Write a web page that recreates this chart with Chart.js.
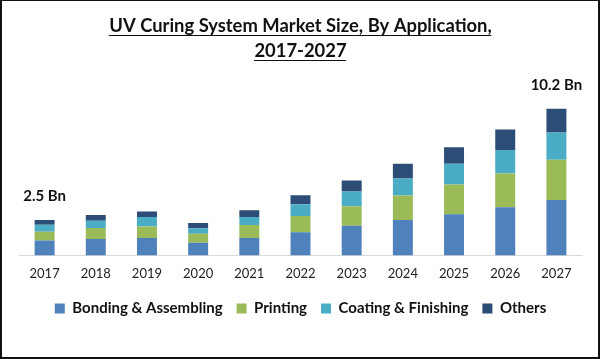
<!DOCTYPE html>
<html>
<head>
<meta charset="utf-8">
<script src="https://cdn.jsdelivr.net/npm/chart.js@4/dist/chart.umd.min.js"></script>
<style>
  html, body { margin: 0; padding: 0; background: #fff; }
  #wrap {
    position: relative; width: 600px; height: 359px; box-sizing: border-box;
    border-top: 1px solid #111; border-left: 2px solid #111;
    border-right: 2px solid #111; border-bottom: 2px solid #111;
  }
  #chart { position: absolute; left: -2px; top: -1px; }
</style>
</head>
<body>
<div id="wrap"><canvas id="chart" width="600" height="359"></canvas></div>
<script>
const years = ["2017", "2018", "2019", "2020", "2021", "2022", "2023", "2024", "2025", "2026", "2027"];
const bonding  = [1.03, 1.15, 1.22, 0.88, 1.22, 1.62, 2.07, 2.46, 2.87, 3.36, 3.86];
const printing = [0.62, 0.76, 0.80, 0.62, 0.90, 1.12, 1.36, 1.72, 2.07, 2.34, 2.80];
const coating  = [0.48, 0.50, 0.65, 0.39, 0.55, 0.83, 1.03, 1.17, 1.45, 1.65, 1.90];
const others   = [0.34, 0.41, 0.39, 0.37, 0.48, 0.62, 0.76, 1.03, 1.14, 1.42, 1.65];
const totalLabels = ["2.5 Bn", null, null, null, null, null, null, null, null, null, "10.2 Bn"];

const fontFam = "Lato, 'Open Sans', sans-serif";

// draws the "2.5 Bn" / "10.2 Bn" text over the first and last stacks
const totalsPlugin = {
  id: "totals",
  afterDatasetsDraw(chart) {
    const ctx = chart.ctx;
    const top = chart.getDatasetMeta(chart.data.datasets.length - 1);
    ctx.save();
    ctx.font = "bold 15px " + fontFam;
    ctx.fillStyle = "#111";
    ctx.textAlign = "center";
    ctx.textBaseline = "middle";
    totalLabels.forEach((t, i) => {
      if (!t) return;
      const bar = top.data[i];
      ctx.fillText(t, bar.x, bar.y - 24);
    });
    ctx.restore();
  }
};

// pull the legend up closer to the axis labels
const legendShift = {
  id: "legendShift",
  afterLayout(chart) {
    chart.legend.top -= 6;
    chart.legend.bottom -= 6;
  }
};

// underline under each title line
const underlinePlugin = {
  id: "underline",
  afterDraw(chart) {
    const t = chart.titleBlock;
    const opts = chart.options.plugins.title;
    const ctx = chart.ctx;
    ctx.save();
    ctx.font = "bold " + opts.font.size + "px " + fontFam;
    ctx.strokeStyle = "#111";
    ctx.lineWidth = 1;
    const lh = opts.font.size * opts.font.lineHeight;
    const mid = 300;
    opts.text.forEach((line, i) => {
      const w = ctx.measureText(line).width;
      const y = Math.round(t.top + opts.padding.top + lh / 2 + i * lh + opts.font.size * 0.45) + 0.5;
      ctx.beginPath();
      ctx.moveTo(mid - w / 2, y);
      ctx.lineTo(mid + w / 2, y);
      ctx.stroke();
    });
    ctx.restore();
  }
};

new Chart(document.getElementById("chart"), {
  type: "bar",
  data: {
    labels: years,
    datasets: [
      { label: "Bonding & Assembling", data: bonding, backgroundColor: "#4F81BD" },
      { label: "Printing", data: printing, backgroundColor: "#9BBB59" },
      { label: "Coating & Finishing", data: coating, backgroundColor: "#4BACC6" },
      { label: "Others", data: others, backgroundColor: "#2C4D75" }
    ]
  },
  options: {
    responsive: false,
    animation: false,
    layout: { padding: { left: 19, right: 18, top: 0, bottom: 27 } },
    datasets: { bar: { categoryPercentage: 1, barPercentage: 0.39 } },
    scales: {
      x: {
        stacked: true,
        grid: { display: false, drawTicks: false },
        border: { display: true, color: "#d9d9d9", width: 1 },
        ticks: { color: "#222", font: { family: fontFam, size: 13 }, padding: 11 }
      },
      y: { stacked: true, display: false, min: 0, max: 12.8 }
    },
    plugins: {
      title: {
        display: true,
        text: ["UV Curing System Market Size, By Application,", "2017-2027"],
        color: "#111",
        font: { family: fontFam, size: 18.4, weight: "bold", lineHeight: 1.35 },
        padding: { top: 14, bottom: 8 }
      },
      legend: {
        position: "bottom",
        labels: {
          color: "#111",
          boxWidth: 10, boxHeight: 10,
          padding: 14,
          font: { family: fontFam, size: 15, weight: "bold" }
        }
      },
      tooltip: { enabled: false }
    }
  },
  plugins: [totalsPlugin, legendShift, underlinePlugin]
});
</script>
</body>
</html>
